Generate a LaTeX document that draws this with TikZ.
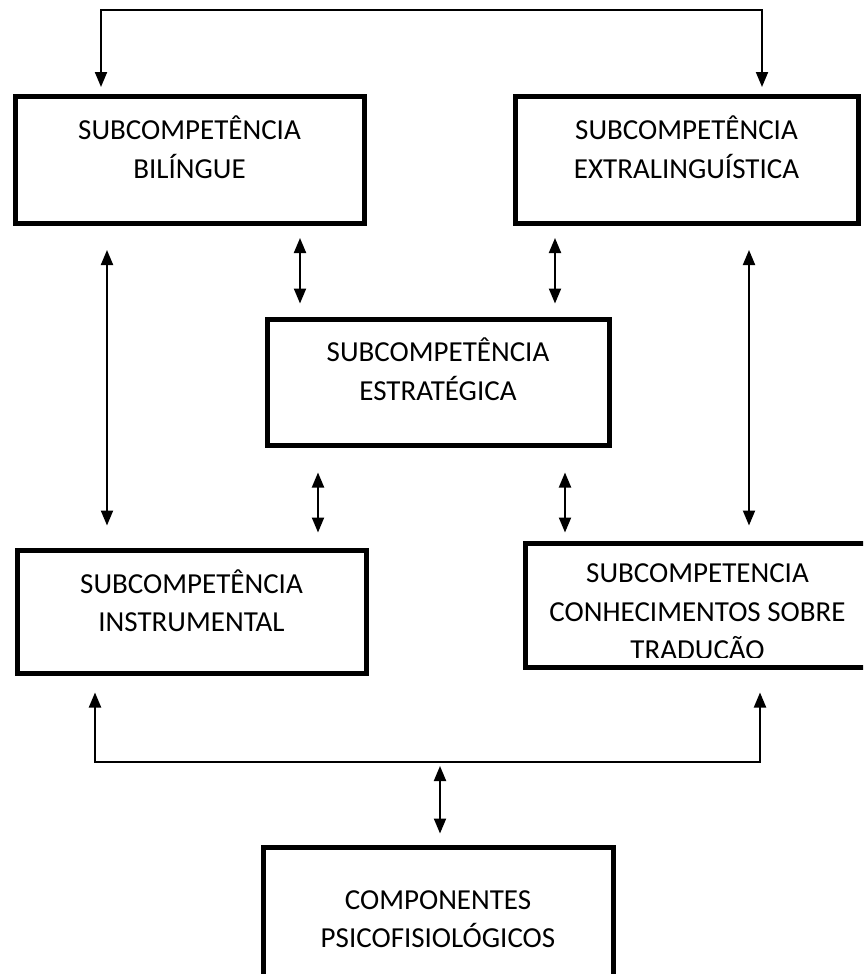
\documentclass[tikz,border=0pt]{standalone}
\usepackage{fontspec}
\setmainfont{Carlito}
\usetikzlibrary{shapes,arrows.meta,positioning,calc}

\tikzset{
  box/.style={draw, rectangle, line width=5pt, inner sep=0pt, minimum height=127},
  lbl/.style={align=center, inner sep=0pt, font=\fontsize{29}{38.5}\selectfont},
  link/.style={line width=2pt, {Triangle[length=15pt,width=12pt]}-{Triangle[length=15pt,width=12pt]}}
}

\begin{document}
\begin{tikzpicture}[x=1pt,y=-1pt]
        \useasboundingbox (0,0) rectangle (863,974);
        \clip (0,0) rectangle (863,974);
        % boxes
        \node[box, minimum width=349] (bil) at (189.5,160) {};
        \node[box, minimum width=343] (ext) at (686.5,160) {};
        \node[box, minimum width=342, minimum height=126] (est) at (438,382) {};
        \node[box, minimum width=349, minimum height=123] (ins) at (191.5,611.5) {};
        \node[box, minimum width=345, minimum height=124] (con) at (697.5,605) {};
        \node[box, minimum width=350, minimum height=156] (psi) at (438,925) {};
        % texts
        \node[lbl] (bilt) at ([yshift=13]bil.center) {SUBCOMPETÊNCIA\\BILÍNGUE};
        \node[lbl] (extt) at ([yshift=13]ext.center) {SUBCOMPETÊNCIA\\EXTRALINGUÍSTICA};
        \node[lbl] (estt) at ([yshift=13]est.center) {SUBCOMPETÊNCIA\\ESTRATÉGICA};
        \node[lbl] (inst) at ([yshift=11]ins.center) {SUBCOMPETÊNCIA\\INSTRUMENTAL};
        \begin{scope}
            \clip (525,543) rectangle (863,657);
            \node[lbl] (cont) at ([yshift=-7]con.center) {SUBCOMPETENCIA\\CONHECIMENTOS SOBRE\\TRADUCÃO};
        \end{scope}
        \node[lbl] (psit) at ([yshift=6]psi.center) {COMPONENTES\\PSICOFISIOLÓGICOS};
        % connectors
        \draw[link, shorten <=7pt, shorten >=7pt] ([xshift=-88.5]bil.north) -- ++(0,-84) -| ([xshift=75.5]ext.north);
        \draw[link, shorten <=24pt, shorten >=22pt] ([xshift=-82.5]bil.south) -- ([xshift=-82.5]bil.south |- ins.north);
        \draw[link, shorten <=12pt, shorten >=13pt] ([xshift=-138]est.north |- bil.south) -- ([xshift=-138]est.north);
        \draw[link, shorten <=12pt, shorten >=13pt] ([xshift=117]est.north |- ext.south) -- ([xshift=117]est.north);
        \draw[link, shorten <=24pt, shorten >=15pt] ([xshift=62.5]ext.south) -- ([xshift=62.5]ext.south |- con.north);
        \draw[link, shorten <=25pt, shorten >=15pt] ([xshift=-120]est.south) -- ([xshift=-120]est.south |- ins.north);
        \draw[link, shorten <=25pt, shorten >=8pt] ([xshift=127]est.south) -- ([xshift=127]est.south |- con.north);
        \draw[link, shorten <=17pt, shorten >=23pt] ([xshift=-96.5]ins.south) -- ++(0,86) -| ([xshift=62.5]con.south);
        \coordinate (jn) at (440,759);
        \draw[link, shorten <=7pt, shorten >=11pt] (jn) -- (jn |- psi.north);
\end{tikzpicture}
\end{document}
